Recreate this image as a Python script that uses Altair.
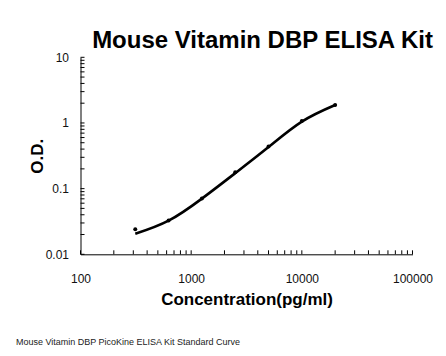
import altair as alt
import pandas as pd

# Standard points
conc = [312.5, 625, 1250, 2500, 5000, 10000, 20000]
od = [0.024, 0.0326, 0.0705, 0.177, 0.44, 1.07, 1.88]
# Fitted curve values at the standards
fit_od = [0.0205, 0.0325, 0.0705, 0.172, 0.43, 1.05, 1.88]

x_ticks = [100, 200, 300, 400, 500, 600, 700, 800, 900,
           1000, 2000, 3000, 4000, 5000, 6000, 7000, 8000, 9000,
           10000, 20000, 30000, 40000, 50000, 60000, 70000, 80000, 90000, 100000]
y_ticks = [0.01, 0.02, 0.03, 0.04, 0.05, 0.06, 0.07, 0.08, 0.09,
           0.1, 0.2, 0.3, 0.4, 0.5, 0.6, 0.7, 0.8, 0.9,
           1, 2, 3, 4, 5, 6, 7, 8, 9, 10]
x_labels = [100, 1000, 10000, 100000]
y_labels = [0.01, 0.1, 1, 10]

title = "Mouse Vitamin DBP ELISA Kit"
x_title = "Concentration(pg/ml)"
y_title = "O.D."
footer = "Mouse Vitamin DBP PicoKine ELISA Kit Standard Curve"

FONT = "Liberation Sans"
W, H = 332, 197

pts = pd.DataFrame({"conc": conc, "od": od})
fit = pd.DataFrame({"conc": conc, "od": fit_od})
xt = pd.DataFrame({"v": x_ticks})
yt = pd.DataFrame({"v": y_ticks})

xscale = alt.Scale(type="log", domain=[100, 100000])
yscale = alt.Scale(type="log", domain=[0.01, 10])

xaxis = alt.Axis(values=x_labels, format="d", tickSize=0, labelPadding=19, labelFlush=False,
                 labelFont=FONT, labelFontSize=12, labelColor="#111",
                 domainColor="black", domainWidth=1, grid=False,
                 title=x_title, titleFont=FONT, titleFontSize=17, titleFontWeight="bold",
                 titleColor="black", titleBaseline="alphabetic", titleY=50.5,
                 titleX=W / 2)
yaxis = alt.Axis(values=y_labels, labelExpr="datum.value >= 1 ? format(datum.value, 'd') : format(datum.value, '')",
                 tickSize=0, labelPadding=12, labelFlush=False,
                 labelFont=FONT, labelFontSize=12, labelColor="#111",
                 domainColor="black", domainWidth=1, grid=False,
                 title=y_title, titleFont=FONT, titleFontSize=17, titleFontWeight="bold",
                 titleColor="black", titleBaseline="alphabetic", titleX=-38,
                 titleY=H / 2, titleAngle=270)

line = alt.Chart(fit).mark_line(color="black", strokeWidth=2.6, interpolate="natural").encode(
    x=alt.X("conc:Q", scale=xscale, axis=xaxis),
    y=alt.Y("od:Q", scale=yscale, axis=yaxis),
)
dots = alt.Chart(pts).mark_circle(color="black", size=16, opacity=1).encode(
    x=alt.X("conc:Q", scale=xscale),
    y=alt.Y("od:Q", scale=yscale),
)
xtick = alt.Chart(xt).mark_rule(color="black", strokeWidth=1).encode(
    x=alt.X("v:Q", scale=xscale),
    y=alt.value(H),
    y2=alt.value(H - 4),
)
ytick = alt.Chart(yt).mark_rule(color="black", strokeWidth=1).encode(
    y=alt.Y("v:Q", scale=yscale),
    x=alt.value(0),
    x2=alt.value(4),
)
head = alt.Chart(pd.DataFrame({"t": [title]})).mark_text(
    align="center", baseline="alphabetic", font=FONT, fontSize=24, fontWeight="bold", color="black"
).encode(
    text="t:N",
    x=alt.value(182),
    y=alt.value(-9),
)
foot = alt.Chart(pd.DataFrame({"t": [footer]})).mark_text(
    align="left", baseline="middle", font=FONT, fontSize=9, color="#222"
).encode(
    text="t:N",
    x=alt.value(-64.5),
    y=alt.value(285),
)

chart = alt.layer(line, dots, xtick, ytick, head, foot).properties(
    width=W, height=H,
    background="white",
    autosize=alt.AutoSizeParams(type="none"),
    padding={"left": 72.5, "top": 49.3, "right": 25, "bottom": 94},
).configure_view(strokeWidth=0, stroke="transparent")

chart.save("out.html", embed_options={"renderer": "svg", "actions": False})
